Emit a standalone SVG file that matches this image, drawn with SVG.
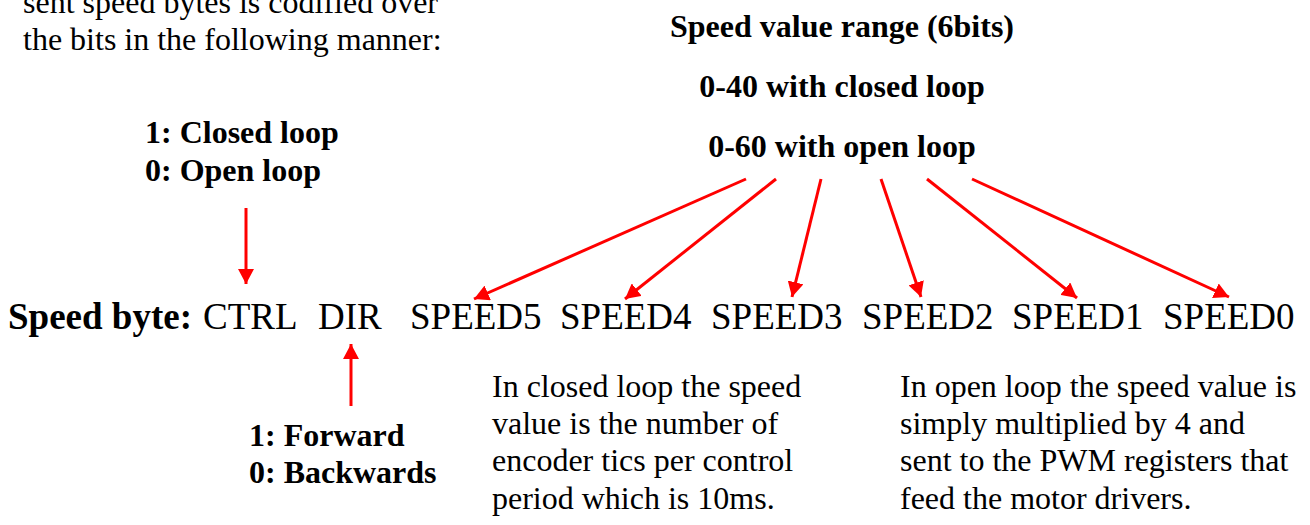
<svg xmlns="http://www.w3.org/2000/svg" width="1310" height="525" viewBox="0 0 1310 525">
<style>
text{font-family:"Liberation Serif","Times New Roman",serif;fill:#000}
.r{font-size:32px}
.b{font-size:32px;font-weight:bold}
.big{font-size:37px}
.bigb{font-size:37px;font-weight:bold}
.c{text-anchor:middle}
.arr{stroke:#ff0000;stroke-width:3;fill:none;marker-end:url(#ah)}
</style>
<defs>
<marker id="ah" markerUnits="userSpaceOnUse" markerWidth="16" markerHeight="16" refX="15" refY="8" orient="auto" viewBox="0 0 16 16">
<path d="M0,0 L15,8 L0,16 z" fill="#ff0000"/>
</marker>
</defs>
<rect width="1310" height="525" fill="#fff"/>
<g id="intro">
<text class="r" x="23" y="13">sent speed bytes is codified over</text>
<text class="r" x="23" y="50">the bits in the following manner:</text>
</g>
<g id="speed-range">
<text class="b c" x="842" y="37">Speed value range (6bits)</text>
<text class="b c" x="842" y="97">0-40 with closed loop</text>
<text class="b c" x="842" y="157">0-60 with open loop</text>
</g>
<g id="ctrl-label">
<text class="b" x="145" y="143">1: Closed loop</text>
<text class="b" x="145" y="181">0: Open loop</text>
</g>
<g id="speed-byte">
<text class="bigb" x="8" y="329">Speed byte:</text>
<text class="big" x="203" y="329">CTRL</text>
<text class="big" x="318" y="329">DIR</text>
<text class="big" x="410" y="329">SPEED5</text>
<text class="big" x="560" y="329">SPEED4</text>
<text class="big" x="711" y="329">SPEED3</text>
<text class="big" x="862" y="329">SPEED2</text>
<text class="big" x="1012" y="329">SPEED1</text>
<text class="big" x="1163" y="329">SPEED0</text>
</g>
<g id="dir-label">
<text class="b" x="249" y="446">1: Forward</text>
<text class="b" x="249" y="483">0: Backwards</text>
</g>
<g id="closed-note">
<text class="r" x="492" y="397">In closed loop the speed</text>
<text class="r" x="492" y="434">value is the number of</text>
<text class="r" x="492" y="471">encoder tics per control</text>
<text class="r" x="492" y="509">period which is 10ms.</text>
</g>
<g id="open-note">
<text class="r" x="900" y="397">In open loop the speed value is</text>
<text class="r" x="900" y="434">simply multiplied by 4 and</text>
<text class="r" x="900" y="471">sent to the PWM registers that</text>
<text class="r" x="900" y="509">feed the motor drivers.</text>
</g>
<g id="connectors">
<line class="arr" x1="246" y1="208" x2="246" y2="284"/>
<line class="arr" x1="351" y1="406" x2="351" y2="344"/>
<line class="arr" x1="746" y1="179" x2="474" y2="299"/>
<line class="arr" x1="776" y1="179" x2="625" y2="299"/>
<line class="arr" x1="821" y1="179" x2="792" y2="297"/>
<line class="arr" x1="881" y1="179" x2="921" y2="297"/>
<line class="arr" x1="927" y1="179" x2="1077" y2="298"/>
<line class="arr" x1="972" y1="179" x2="1229" y2="297"/>
</g>
</svg>
